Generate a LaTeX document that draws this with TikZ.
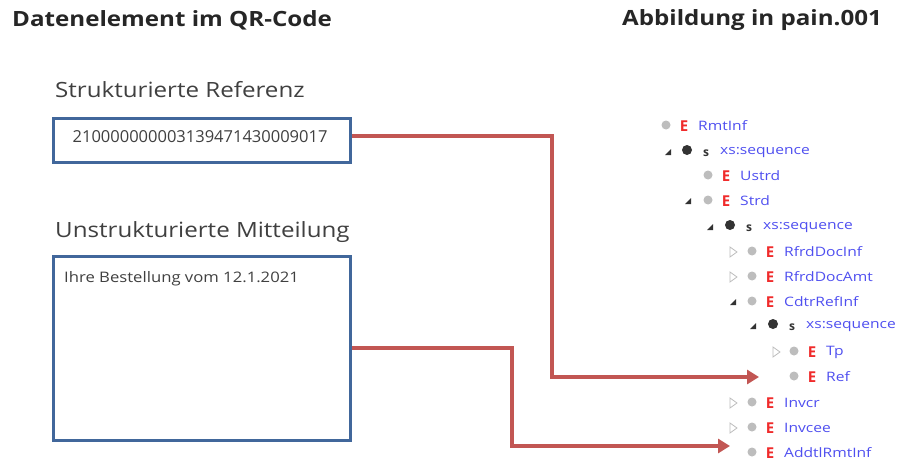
\documentclass[tikz,border=0pt]{standalone}
\usepackage{fontspec}
\setmainfont{Open Sans}
\usetikzlibrary{arrows.meta}
\definecolor{boxblue}{HTML}{41679B}
\definecolor{arrred}{HTML}{C25653}
\definecolor{treeblue}{HTML}{4F4FF0}
\definecolor{treered}{HTML}{F02B2B}
\definecolor{titlegray}{HTML}{262626}
\definecolor{subgray}{HTML}{404040}
\definecolor{dotgray}{HTML}{BDBDBD}
\definecolor{dotdark}{HTML}{333333}
\newcommand{\wideA}[1]{\scalebox{1.15}[1]{#1}}
\newcommand{\wideB}[1]{\scalebox{1.2}[1]{#1}}
\tikzset{
  titletext/.style={font=\fontsize{21}{24}\selectfont\bfseries, text=titlegray, inner sep=0pt, anchor=base west},
  subtext/.style={font=\fontsize{21}{24}\selectfont, text=subgray, inner sep=0pt, anchor=base west},
  qrbox/.style={draw=boxblue, line width=3pt, fill=white, inner sep=0pt, anchor=north west},
  conn/.style={draw=arrred, line width=3.3pt, -{Triangle[length=12pt,width=14pt]}},
  elname/.style={font=\fontsize{13}{15}\selectfont, text=treeblue, inner sep=0pt, anchor=west},
  etag/.style={font=\fontsize{15}{17}\selectfont\bfseries, text=treered, inner sep=0pt, anchor=center},
  stag/.style={font=\fontsize{12}{14}\selectfont\bfseries, text=dotdark, inner sep=0pt, anchor=center},
  gdot/.style={circle, fill=dotgray, minimum size=9pt, inner sep=0pt},
  bdot/.style={circle, fill=dotdark, minimum size=10pt, inner sep=0pt},
  opentri/.style={draw=dotgray, line width=0.8pt},
  filltri/.style={fill=dotdark},
}
\newcommand{\erow}[4]{% name, x of dot, y, label
  \node[gdot] (#1d) at (#2,#3-1) {};
  \node[etag] (#1e) at (#2+18,#3) {E};
  \node[elname] (#1) at (#2+32,#3) {\wideB{#4}};
}
\newcommand{\srow}[3]{% name, x of dot, y
  \node[bdot] (#1d) at (#2,#3-2) {};
  \node[stag] (#1s) at (#2+19,#3+1) {s};
  \node[elname] (#1) at (#2+33,#3) {\wideB{xs:sequence}};
}
\newcommand{\opentriangle}[2]{%
  \draw[opentri] (#1-3,#2-5) -- (#1+4,#2) -- (#1-3,#2+5) -- cycle;
}
\newcommand{\filltriangle}[2]{%
  \fill[filltri] (#1+3,#2-3) -- (#1+3,#2+3) -- (#1-3,#2+3) -- cycle;
}
\begin{document}
\begin{tikzpicture}[x=1pt,y=-1pt]
\useasboundingbox (0,0) rectangle (898,463);
\fill[white] (0,0) rectangle (898,463);

\node[titletext] (t1) at (12,27) {\wideA{Datenelement im QR-Code}};
\node[titletext] (t2) at (622,26) {\wideA{Abbildung in pain.001}};

\node[subtext] (s1) at (55,97) {\wideA{Strukturierte Referenz}};
\node[subtext] (s2) at (55,237) {\wideA{Unstrukturierte Mitteilung}};

\node[qrbox, minimum width=297pt, minimum height=44pt] (b1) at (52,117) {};
\node[font=\fontsize{16.5}{18}\selectfont, text=subgray, inner sep=0pt] (n1) at (200,137) {210000000003139471430009017};

\node[qrbox, minimum width=297pt, minimum height=184pt] (b2) at (52,255) {};
\node[font=\fontsize{14.5}{17}\selectfont, text=subgray, inner sep=0pt, anchor=base west] (n2) at (64,282) {\wideA{Ihre Bestellung vom 12.1.2021}};

% tree
\erow{rmt}{666}{126}{RmtInf}
\filltriangle{668}{152}
\srow{seqa}{687}{152}
\erow{ustrd}{708}{176}{Ustrd}
\filltriangle{688}{201}
\erow{strd}{708}{201}{Strd}
\filltriangle{710}{227}
\srow{seqb}{730}{227}
\opentriangle{733}{252}
\erow{rdi}{752}{252}{RfrdDocInf}
\opentriangle{733}{277}
\erow{rda}{752}{277}{RfrdDocAmt}
\filltriangle{733}{302}
\erow{cri}{752}{302}{CdtrRefInf}
\filltriangle{753}{326}
\srow{seqc}{773}{326}
\opentriangle{776}{352}
\erow{tp}{794}{352}{Tp}
\erow{ref}{794}{377}{Ref}
\opentriangle{733}{403}
\erow{invcr}{752}{403}{Invcr}
\opentriangle{733}{428}
\erow{invcee}{752}{428}{Invcee}
\erow{addtl}{752}{453}{AddtlRmtInf}

\coordinate (c1) at ([xshift=-35pt]refd.center |- 0,377);
\coordinate (c2) at ([xshift=-22pt]addtld.center |- 0,446);

\draw[conn] (b1.east |- 0,136) -| (552,377) -- (c1);
\draw[conn] (b2.east |- 0,348) -| (512,446) -- (c2);
\end{tikzpicture}
\end{document}
